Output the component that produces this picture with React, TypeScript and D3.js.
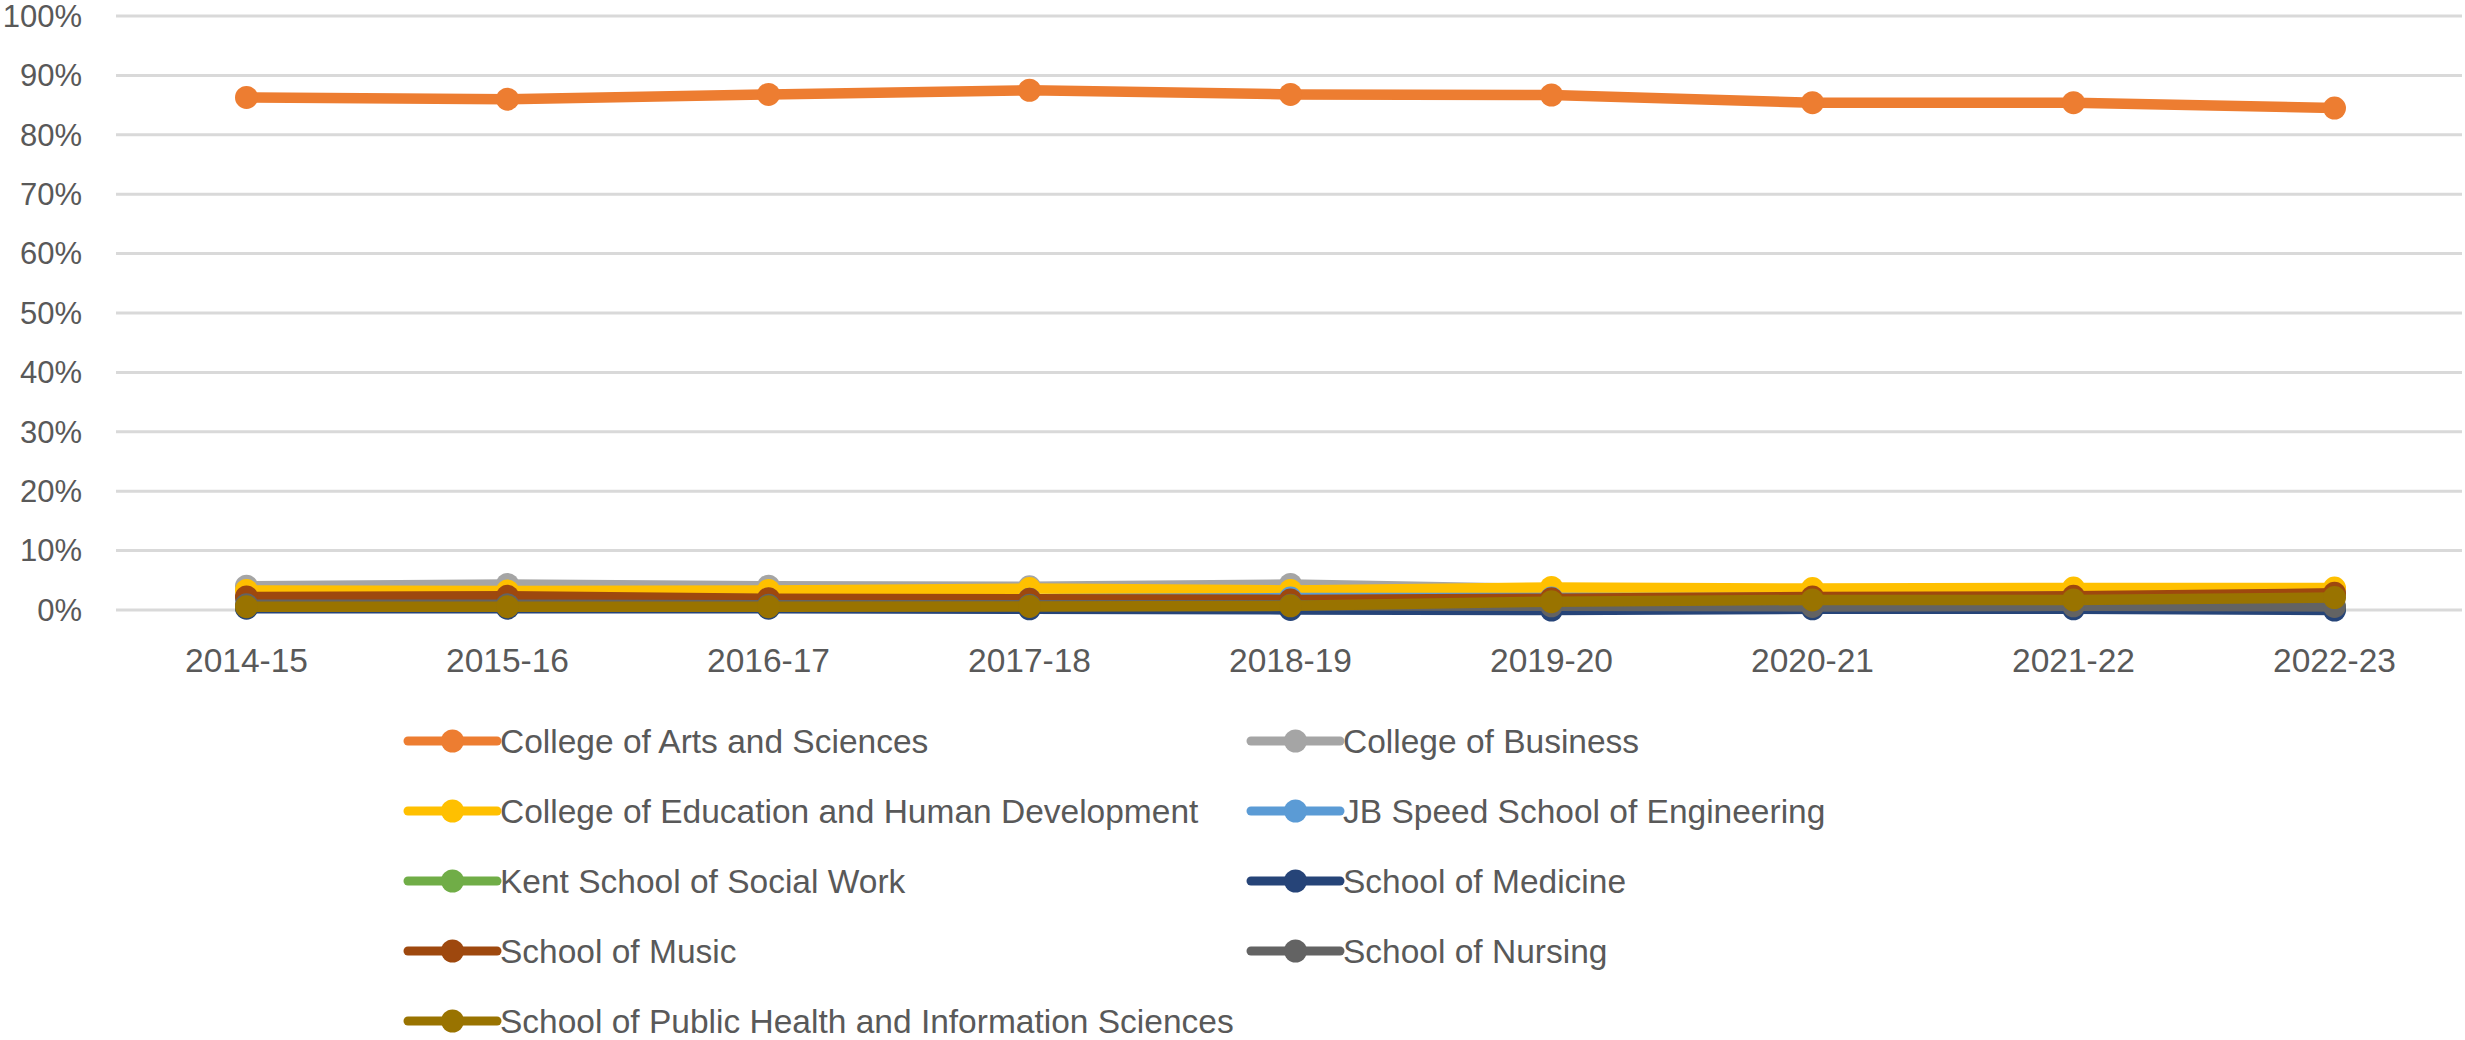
import * as d3 from 'd3';
import { useEffect, useRef } from 'react';

// school years on the x axis
const years = ['2014-15', '2015-16', '2016-17', '2017-18', '2018-19', '2019-20', '2020-21', '2021-22', '2022-23'];

// share of majors (%) per school
const artsSciences = [86.3, 86.0, 86.8, 87.5, 86.8, 86.7, 85.4, 85.4, 84.5];
const business = [4.0, 4.3, 4.0, 3.9, 4.3, 3.5, 3.4, 3.4, 3.4];
const education = [3.3, 3.2, 3.3, 3.6, 3.3, 3.8, 3.6, 3.7, 3.7];
const engineering = [2.0, 2.0, 1.8, 1.8, 2.0, 2.0, 2.0, 2.2, 2.5];
const socialWork = [0.4, 0.5, 0.4, 0.4, 0.3, 0.3, 0.4, 0.4, 0.3];
const medicine = [0.3, 0.3, 0.3, 0.2, 0.1, 0.0, 0.2, 0.2, 0.0];
const music = [2.2, 2.3, 1.9, 1.8, 1.7, 1.9, 2.2, 2.3, 2.8];
const nursing = [0.9, 0.9, 0.8, 0.8, 0.8, 0.7, 0.6, 0.7, 0.6];
const publicHealth = [0.55, 0.55, 0.55, 0.6, 0.7, 1.4, 1.7, 1.7, 2.1];

const seriesNames = [
  'College of Arts and Sciences',
  'College of Business',
  'College of Education and Human Development',
  'JB Speed School of Engineering',
  'Kent School of Social Work',
  'School of Medicine',
  'School of Music',
  'School of Nursing',
  'School of Public Health and Information Sciences',
];
const seriesValues = [artsSciences, business, education, engineering, socialWork, medicine, music, nursing, publicHealth];
const seriesColors = ['#ED7D31', '#A5A5A5', '#FFC000', '#5B9BD5', '#70AD47', '#264478', '#9E480E', '#636363', '#997300'];

const yTicks = [0, 10, 20, 30, 40, 50, 60, 70, 80, 90, 100];

export default function App() {
  const svgRef = useRef<SVGSVGElement>(null);

  useEffect(() => {
    const width = 2465;
    const height = 1040;
    const font = '"Liberation Sans", Arial, sans-serif';
    const textColor = '#595959';

    const svg = d3.select(svgRef.current);
    svg.selectAll('*').remove();
    svg.attr('width', width).attr('height', height);

    const x = d3.scalePoint<string>().domain(years).range([116, 2465]).padding(0.5);
    const y = d3.scaleLinear().domain([0, 100]).range([610, 16]);

    // gridlines
    svg
      .append('g')
      .selectAll('line')
      .data(yTicks)
      .enter()
      .append('line')
      .attr('x1', 116)
      .attr('x2', 2462)
      .attr('y1', (d) => y(d))
      .attr('y2', (d) => y(d))
      .attr('stroke', '#D9D9D9')
      .attr('stroke-width', 3);

    // y labels
    svg
      .append('g')
      .selectAll('text')
      .data(yTicks)
      .enter()
      .append('text')
      .attr('x', 82)
      .attr('y', (d) => y(d))
      .attr('dy', '0.35em')
      .attr('text-anchor', 'end')
      .attr('font-family', font)
      .attr('font-size', 31)
      .attr('fill', textColor)
      .text((d) => d + '%');

    // x labels
    svg
      .append('g')
      .selectAll('text')
      .data(years)
      .enter()
      .append('text')
      .attr('x', (d) => x(d)!)
      .attr('y', 660)
      .attr('dy', '0.35em')
      .attr('text-anchor', 'middle')
      .attr('font-family', font)
      .attr('font-size', 33.5)
      .attr('fill', textColor)
      .text((d) => d);

    const line = d3
      .line<number>()
      .x((_, i) => x(years[i])!)
      .y((d) => y(d));

    seriesValues.forEach((vals, s) => {
      const g = svg.append('g');
      g.append('path')
        .attr('d', line(vals)!)
        .attr('fill', 'none')
        .attr('stroke', seriesColors[s])
        .attr('stroke-width', 10.5)
        .attr('stroke-linejoin', 'round');
      g.selectAll('circle')
        .data(vals)
        .enter()
        .append('circle')
        .attr('cx', (_, i) => x(years[i])!)
        .attr('cy', (d) => y(d))
        .attr('r', 11.5)
        .attr('fill', seriesColors[s]);
    });

    // legend, two columns
    const legend = svg.append('g');
    const colX = [408, 1251];
    seriesNames.forEach((name, i) => {
      const lx = colX[i % 2];
      const ly = 741 + Math.floor(i / 2) * 70;
      const item = legend.append('g');
      item
        .append('line')
        .attr('x1', lx)
        .attr('x2', lx + 89)
        .attr('y1', ly)
        .attr('y2', ly)
        .attr('stroke', seriesColors[i])
        .attr('stroke-width', 9)
        .attr('stroke-linecap', 'round');
      item
        .append('circle')
        .attr('cx', lx + 44.5)
        .attr('cy', ly)
        .attr('r', 11.5)
        .attr('fill', seriesColors[i]);
      item
        .append('text')
        .attr('x', lx + 92)
        .attr('y', ly)
        .attr('dy', '0.35em')
        .attr('font-family', font)
        .attr('font-size', 33.5)
        .attr('fill', textColor)
        .text(name);
    });
  }, []);

  return (
    <div style={{ position: 'absolute', left: 0, top: 0 }}>
      <svg ref={svgRef} style={{ display: 'block', background: '#fff' }}></svg>
    </div>
  );
}
